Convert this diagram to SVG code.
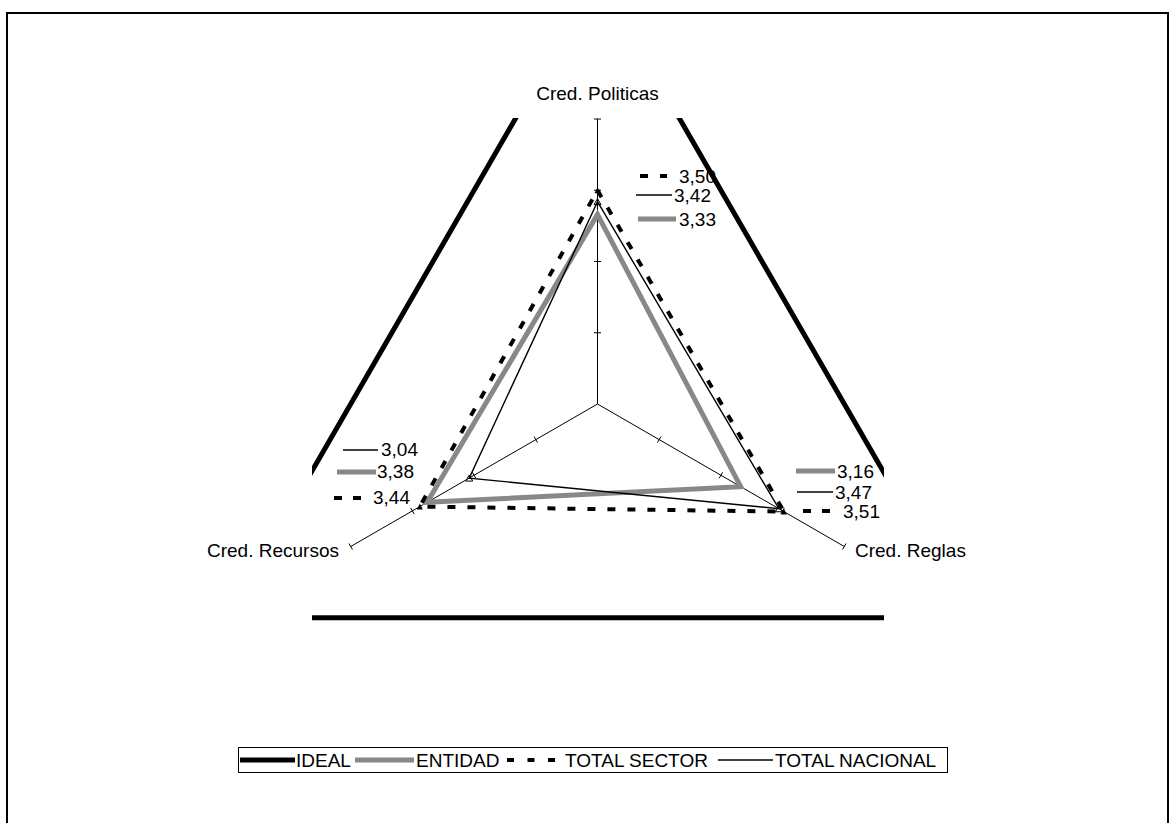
<svg xmlns="http://www.w3.org/2000/svg" width="1171" height="823" viewBox="0 0 1171 823">
<style>
text{font-family:"Liberation Sans",Arial,sans-serif;font-size:19px;fill:#000}
.ax{stroke:#000;stroke-width:1;fill:none}
.ideal{stroke:#000;stroke-width:5;fill:none}
.ent{stroke:#888;stroke-width:5;fill:none;stroke-linejoin:miter}
.sec{stroke:#000;stroke-width:4;fill:none;stroke-dasharray:8 12}
.nac{stroke:#000;stroke-width:1.4;fill:none}
</style>
<defs>
<clipPath id="plot"><rect x="312" y="118" width="572" height="510"/></clipPath>
<marker id="mSec" markerWidth="8" markerHeight="8" refX="4" refY="4" markerUnits="userSpaceOnUse"><path d="M1,7 L4,1 L7,7 Z" fill="#000"/></marker>
<marker id="mNac" markerWidth="10" markerHeight="10" refX="5" refY="5" markerUnits="userSpaceOnUse"><path d="M1.5,8 L5,2 L8.5,8 Z" fill="none" stroke="#000" stroke-width="1"/></marker>
</defs>
<rect x="7" y="13" width="1161" height="830" fill="#fff" stroke="#000" stroke-width="2"/>
<g id="axes">
<line class="ax" x1="597.5" y1="404" x2="597.5" y2="119"/>
<line class="ax" x1="597.5" y1="404" x2="844.3" y2="546.5"/>
<line class="ax" x1="597.5" y1="404" x2="350.7" y2="546.5"/>
<path class="ax" d="M594,119H601M594,190.25H601M594,261.5H601M594,332.75H601"/>
<path class="ax" d="M660.95,436.57L657.45,442.63M722.65,472.27L719.15,478.33M784.35,507.87L780.85,513.93M846.05,543.47L842.55,549.53"/>
<path class="ax" d="M534.05,436.57L537.55,442.63M472.35,472.27L475.85,478.33M410.65,507.87L414.15,513.93M348.95,543.47L352.45,549.53"/>
</g>
<g id="connectors">
<polygon id="entidad" class="ent" points="597.5,214.5 740.7,486.7 427.2,502.3"/>
<polygon id="sector" class="sec" points="597.5,190.25 783.9,511.6 419.8,506.6" marker-start="url(#mSec)" marker-mid="url(#mSec)"/>
<polygon id="nacional" class="nac" points="597.5,201.65 778.9,508.75 469.2,478.1" marker-start="url(#mNac)" marker-mid="url(#mNac)"/>
</g>
<g id="labels-top">
<line class="sec" x1="640" y1="176" x2="667" y2="176"/>
<text x="679" y="182.5">3,50</text>
<line class="nac" x1="636" y1="195" x2="672" y2="195"/>
<text x="674" y="201.5">3,42</text>
<line class="ent" x1="638" y1="219" x2="676" y2="219"/>
<text x="679" y="225.5">3,33</text>
</g>
<g id="labels-right">
<line class="ent" x1="796" y1="471" x2="835" y2="471"/>
<text x="837" y="477.5">3,16</text>
<line class="nac" x1="797" y1="492" x2="833" y2="492"/>
<text x="835" y="498.5">3,47</text>
<line class="sec" x1="803" y1="511" x2="831" y2="511" style="stroke-dasharray:8 11"/>
<text x="843" y="518">3,51</text>
</g>
<g id="labels-left">
<line class="nac" x1="343" y1="450" x2="378" y2="450"/>
<text x="381" y="455.5">3,04</text>
<line class="ent" x1="337" y1="472" x2="376" y2="472"/>
<text x="377" y="477.5">3,38</text>
<line class="sec" x1="334" y1="498" x2="361" y2="498" style="stroke-dasharray:8 11"/>
<text x="373" y="504">3,44</text>
</g>
<g id="ideal" clip-path="url(#plot)">
<polygon class="ideal" points="597.5,-23.5 967.7,617.75 227.3,617.75"/>
</g>
<g id="axis-labels">
<text x="597.5" y="100" text-anchor="middle">Cred. Politicas</text>
<text x="855" y="557">Cred. Reglas</text>
<text x="207" y="557">Cred. Recursos</text>
</g>
<g id="legend">
<rect x="238.5" y="747.5" width="709" height="25" fill="#fff" stroke="#000" stroke-width="1"/>
<line class="ideal" x1="240" y1="760" x2="295" y2="760"/>
<text x="296" y="766.8">IDEAL</text>
<line class="ent" x1="355" y1="760" x2="414" y2="760"/>
<text x="416" y="766.8">ENTIDAD</text>
<line class="sec" x1="507" y1="760" x2="562" y2="760" style="stroke-dasharray:7 13.5"/>
<text x="565" y="766.8">TOTAL SECTOR</text>
<line class="nac" x1="718" y1="760" x2="773" y2="760"/>
<text x="775" y="766.8">TOTAL NACIONAL</text>
</g>
</svg>
